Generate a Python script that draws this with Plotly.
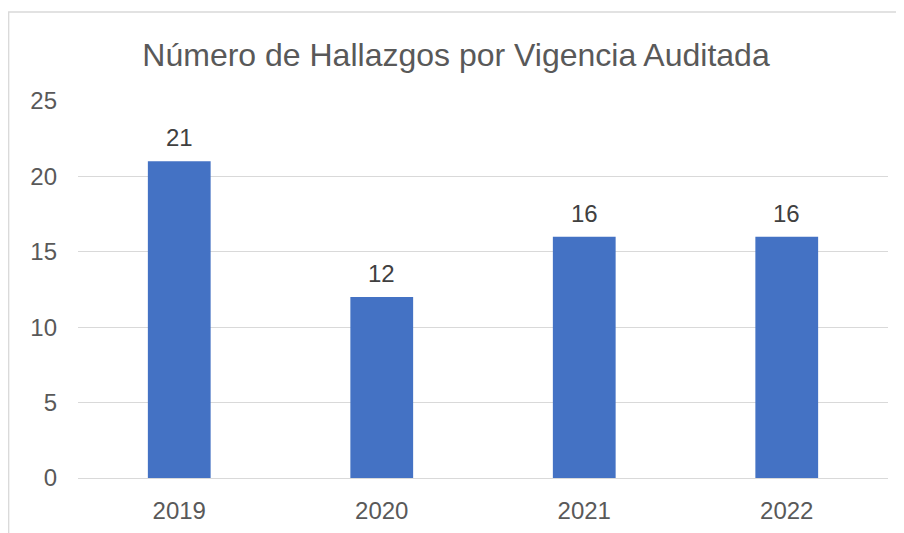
import plotly.graph_objects as go

categories = ["2019", "2020", "2021", "2022"]
values = [21, 12, 16, 16]
y_ticks = [0, 5, 10, 15, 20, 25]

FONT = "Liberation Sans, Arial, sans-serif"

# page is offset by the 8px body margin, so figure coords = page coords - 8
W, H = 896, 525
L, R, T, B = 70, 16, 93, 55
PW, PH = W - L - R, H - T - B

fig = go.Figure()
fig.add_trace(go.Bar(
    x=list(range(len(categories))), y=values,
    marker=dict(color="#4472C4", line=dict(width=0)),
    hoverinfo="skip",
))

for i, v in enumerate(values):
    fig.add_annotation(x=i, y=v, text=str(v), showarrow=False,
                       yanchor="bottom", yshift=8,
                       font=dict(family=FONT, size=24, color="#404040"))

fig.update_layout(
    width=W, height=H,
    margin=dict(l=L, r=R, t=T, b=B, autoexpand=False),
    paper_bgcolor="white", plot_bgcolor="white",
    bargap=0.69,
    showlegend=False,
    title=dict(text="Número de Hallazgos por Vigencia Auditada",
               x=0.5, xanchor="center", y=1 - 47 / H, yanchor="middle",
               font=dict(family=FONT, size=32, color="#595959")),
    font=dict(family=FONT, size=24, color="#595959"),
    xaxis=dict(range=[-0.5, len(categories) - 0.5], automargin=False,
               tickvals=list(range(len(categories))), ticktext=categories,
               showgrid=False, zeroline=False,
               showline=False, ticks="", ticklabelstandoff=16,
               tickfont=dict(family=FONT, size=24, color="#595959")),
    yaxis=dict(range=[0, 25], tickvals=y_ticks, showgrid=True, automargin=False,
               gridcolor="#D9D9D9", gridwidth=1.3, zeroline=True,
               zerolinecolor="#D9D9D9", zerolinewidth=1.3,
               showline=False, ticks="", ticklabelstandoff=20,
               tickfont=dict(family=FONT, size=24, color="#595959")),
    shapes=[dict(type="rect", xref="paper", yref="paper",
                 x0=(0.7 - L) / PW, x1=(W + 10 - L) / PW,
                 y0=-(B + 20) / PH,
                 y1=(H - B - 4) / PH,
                 line=dict(color="#D9D9D9", width=1.3), fillcolor="rgba(0,0,0,0)",
                 layer="below")],
)

fig.write_html("out.html")
